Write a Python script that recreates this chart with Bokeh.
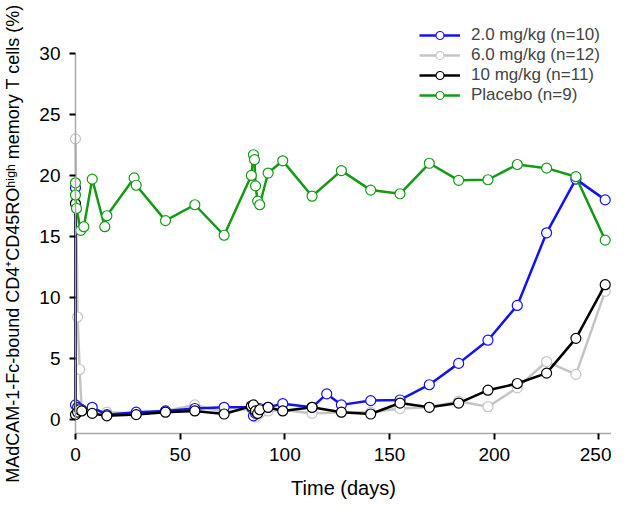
from bokeh.plotting import figure
from bokeh.models import Range1d, Legend, LegendItem, FixedTicker
from bokeh.embed import file_html
from bokeh.resources import INLINE

# ---- data ----
x_ticks = [0, 50, 100, 150, 200, 250]
y_ticks = [0, 5, 10, 15, 20, 25, 30]

days_2mg = [0, 0, 1, 2, 3, 8, 15, 29, 43, 57, 71, 84, 85, 86, 87, 88, 92, 99, 113, 120, 127, 141, 155, 169, 183, 197, 211, 225, 239, 253]
vals_2mg = [19.0, 1.2, 1.0, 0.9, 0.8, 1.0, 0.4, 0.6, 0.7, 0.9, 1.0, 1.0, 0.3, 0.5, 0.8, 0.9, 1.0, 1.3, 1.0, 2.1, 1.2, 1.55, 1.6, 2.85, 4.6, 6.5, 9.35, 15.3, 19.7, 18.0]

days_6mg = [0, 1, 2, 3, 8, 15, 29, 43, 57, 71, 84, 85, 86, 87, 88, 92, 99, 113, 127, 141, 155, 169, 183, 197, 211, 225, 239, 253]
vals_6mg = [23.0, 8.4, 4.1, 0.8, 0.7, 0.6, 0.5, 0.7, 1.2, 0.6, 0.9, 0.5, 0.2, 0.4, 0.5, 0.7, 0.8, 0.5, 0.6, 0.6, 0.9, 1.0, 1.5, 1.05, 2.6, 4.75, 3.7, 10.5]

days_10mg = [0, 0, 1, 2, 3, 8, 15, 29, 43, 57, 71, 84, 85, 86, 87, 88, 92, 99, 113, 127, 141, 155, 169, 183, 197, 211, 225, 239, 253]
vals_10mg = [17.7, 0.4, 0.6, 0.8, 0.7, 0.5, 0.3, 0.4, 0.6, 0.7, 0.45, 1.1, 1.2, 0.7, 0.5, 0.8, 1.0, 0.7, 1.0, 0.6, 0.45, 1.35, 1.0, 1.35, 2.4, 2.95, 3.8, 6.65, 11.05]

days_pl = [0, 0, 0.5, 2.5, 4, 8, 14, 15, 28, 29, 43, 57, 71, 84, 85, 85.5, 86, 87, 88, 92, 99, 113, 127, 141, 155, 169, 183, 197, 211, 225, 239, 253]
vals_pl = [19.4, 18.4, 17.3, 15.5, 15.8, 19.7, 15.8, 16.7, 19.8, 19.2, 16.3, 17.6, 15.1, 20.0, 21.7, 21.3, 19.15, 17.9, 17.6, 20.2, 21.2, 18.3, 20.4, 18.8, 18.5, 21.0, 19.6, 19.65, 20.9, 20.6, 19.9, 14.7]

labels = ["2.0 mg/kg (n=10)", "6.0 mg/kg (n=12)", "10 mg/kg (n=11)", "Placebo (n=9)"]

FONT = "Liberation Sans"
Y_AXIS_AT = -1.15

p = figure(width=611, height=501, output_backend="svg", toolbar_location=None,
           x_range=Range1d(-35.8, 256.0), y_range=Range1d(-6.72, 34.34),
           min_border_left=0, min_border_right=0, min_border_top=0, min_border_bottom=0)
p.outline_line_color = None
p.grid.visible = False

series = {
    "blue": (days_2mg, vals_2mg, "#1212f2"),
    "gray": (days_6mg, vals_6mg, "#c4c4c4"),
    "black": (days_10mg, vals_10mg, "#000000"),
    "green": (days_pl, vals_pl, "#159a15"),
}
rend = {}
for key in ["gray", "blue", "black", "green"]:
    d, v, c = series[key]
    ln = p.line(d, v, line_color=c, line_width=2.5)
    sc = p.scatter(d, v, marker="circle", size=10, fill_color="white", line_color=c, line_width=1.2)
    rend[key] = [ln, sc]

legend = Legend(items=[LegendItem(label=labels[0], renderers=rend["blue"]),
                       LegendItem(label=labels[1], renderers=rend["gray"]),
                       LegendItem(label=labels[2], renderers=rend["black"]),
                       LegendItem(label=labels[3], renderers=rend["green"])],
                location=(419, 396), glyph_width=41, glyph_height=20, label_height=20,
                spacing=0, padding=0, margin=0, label_standoff=11,
                label_text_font=FONT, label_text_font_size="17px",
                border_line_alpha=0, background_fill_alpha=0)
p.add_layout(legend)

p.xaxis.ticker = FixedTicker(ticks=x_ticks)
p.yaxis.ticker = FixedTicker(ticks=y_ticks)
p.yaxis.fixed_location = 0
p.xaxis.fixed_location = Y_AXIS_AT
p.xaxis.bounds = (0, 256.0)
p.yaxis.bounds = (Y_AXIS_AT, 30)
for ax in [p.xaxis[0], p.yaxis[0]]:
    ax.axis_line_color = "#a8a8a8"
    ax.axis_line_width = 1.5
    ax.major_tick_line_color = "black"
    ax.major_tick_line_width = 2
    ax.major_tick_out = 6
    ax.major_tick_in = 0
    ax.minor_tick_out = 0
    ax.minor_tick_in = 0
    ax.major_label_text_font = FONT
    ax.major_label_text_font_size = "19px"
    ax.major_label_text_color = "black"
    ax.axis_label_text_font = FONT
    ax.axis_label_text_font_style = "normal"
    ax.axis_label_text_color = "black"

p.xaxis.axis_label = "Time (days)"
p.xaxis.axis_label_text_font_size = "20px"
p.xaxis.major_label_standoff = 8
p.xaxis.axis_label_standoff = 13
p.yaxis.axis_label = "MAdCAM-1-Fc-bound CD4\u207aCD45RO\u02b0\u2071\u1d4d\u02b0 memory T cells (%)"
p.yaxis.axis_label_text_font_size = "18px"
p.yaxis.major_label_standoff = 9
p.yaxis.axis_label_standoff = 13

open("out.html", "w").write(file_html(p, INLINE))
